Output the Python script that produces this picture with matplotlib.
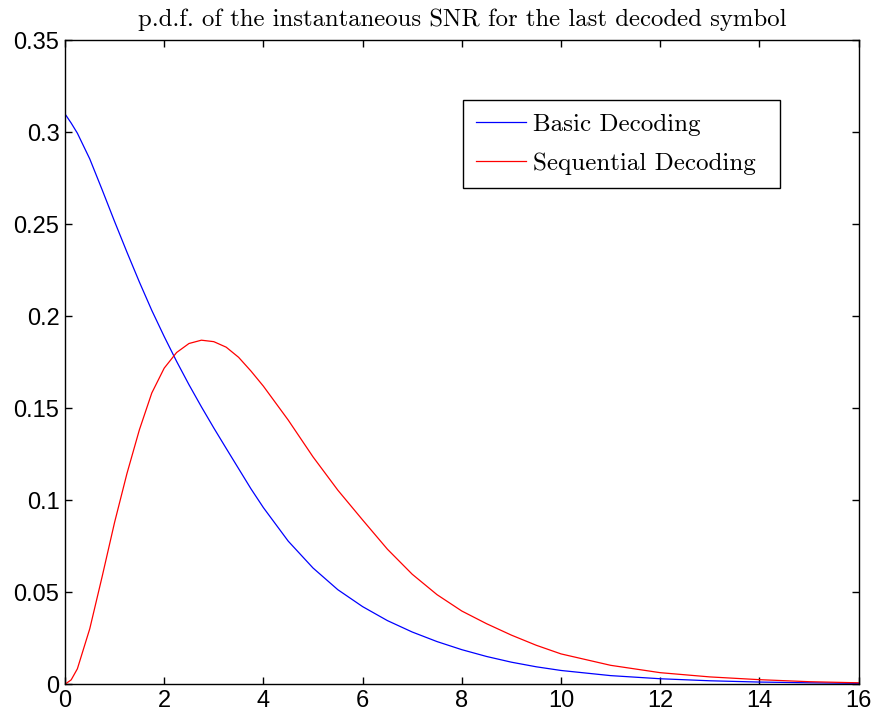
import matplotlib
matplotlib.use("Agg")
import matplotlib.pyplot as plt

# values
snr = [0, 0.125, 0.25, 0.5, 0.75, 1.0, 1.25, 1.5, 1.75, 2.0, 2.25, 2.5, 2.75,
       3.0, 3.25, 3.5, 3.75, 4.0, 4.5, 5.0, 5.5, 6.0, 6.5, 7.0, 7.5, 8.0,
       8.5, 9.0, 9.5, 10, 11, 12, 13, 14, 15, 16]

basic = [0.310, 0.3050, 0.2995, 0.2855, 0.2687, 0.2515, 0.2348, 0.2186,
         0.2032, 0.1890, 0.1755, 0.1628, 0.1508, 0.1393, 0.1282, 0.1172,
         0.1062, 0.0960, 0.0778, 0.0632, 0.0514, 0.0422, 0.0346, 0.0284,
         0.0232, 0.0188, 0.0151, 0.0120, 0.0095, 0.0075, 0.0047, 0.0030,
         0.0019, 0.0012, 0.0008, 0.0005]

sequential = [0.0, 0.0024, 0.0084, 0.0302, 0.0586, 0.0880, 0.1146, 0.1383,
              0.1583, 0.1718, 0.1803, 0.1852, 0.1870, 0.1862, 0.1832, 0.1777,
              0.1702, 0.1620, 0.1436, 0.1236, 0.1055, 0.0893, 0.0734, 0.0598,
              0.0487, 0.0398, 0.0329, 0.0267, 0.0212, 0.0165, 0.0103, 0.0063,
              0.0040, 0.0025, 0.0014, 0.0008]

xticks = [0, 2, 4, 6, 8, 10, 12, 14, 16]
yticks = [0, 0.05, 0.1, 0.15, 0.2, 0.25, 0.3, 0.35]
ytick_labels = ["0", "0.05", "0.1", "0.15", "0.2", "0.25", "0.3", "0.35"]

fig = plt.figure(figsize=(8.78, 7.19), dpi=100)
ax = fig.add_axes([0.074, 0.0483, 0.904, 0.8957])

ax.plot(snr, basic, color="#0000ff", lw=0.9, label="Basic Decoding")
ax.plot(snr, sequential, color="#ff0000", lw=0.9, label="Sequential Decoding")

ax.set_xlim(0, 16)
ax.set_ylim(0, 0.35)
ax.set_xticks(xticks)
ax.set_xticklabels([str(t) for t in xticks], family="Liberation Sans", fontsize=17)
ax.set_yticks(yticks)
ax.set_yticklabels(ytick_labels, family="Liberation Sans", fontsize=17)
ax.tick_params(direction="in", top=True, right=True, length=5, width=1, pad=4)
for s in ax.spines.values():
    s.set_linewidth(1.0)

ax.set_title("p.d.f. of the instantaneous SNR for the last decoded symbol",
             family="cmr10", fontsize=17.8, pad=10)

# legend box spans the same width as in the reference
leg = ax.legend(loc="upper left", bbox_to_anchor=(0.5015, 0.9073, 0.3994, 0),
                mode="expand", borderaxespad=0, fancybox=False, framealpha=1,
                edgecolor="black", prop={"family": "cmr10", "size": 18},
                handlelength=2.0, handletextpad=0.25, labelspacing=0.66,
                borderpad=0.53)
leg.get_frame().set_linewidth(1.0)

fig.savefig("out.png", dpi=100)
